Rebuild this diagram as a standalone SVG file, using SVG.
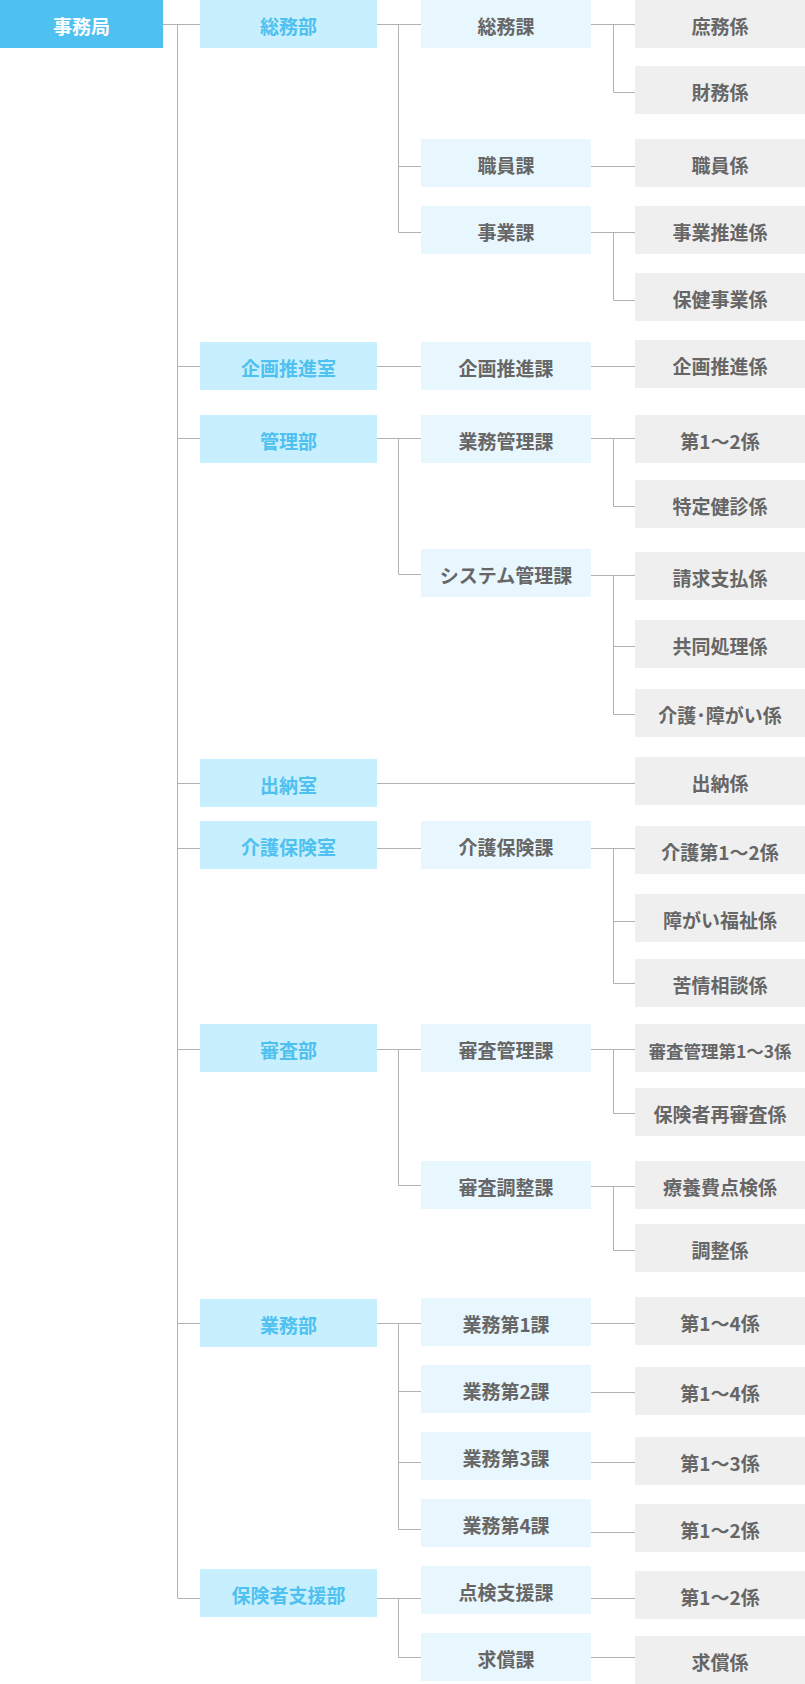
<svg xmlns="http://www.w3.org/2000/svg" width="805" height="1684" viewBox="0 0 805 1684">
<style>
text{font-family:"Noto Sans CJK JP","Noto Sans",sans-serif;font-size:19px;font-weight:bold;text-anchor:middle}
.top rect{fill:#4fc1f0}.top text{fill:#ffffff}
.bu rect{fill:#c7effd}.bu text{fill:#4fc1f0}
.ka rect{fill:#e8f6fd}.ka text{fill:#666666}
.kk rect{fill:#efefef}.kk text{fill:#666666}
#connectors path{stroke:#b2b2b2;stroke-width:1;fill:none}
</style>
<rect width="805" height="1684" fill="#ffffff"/>
<g id="connectors">
<path d="M163 24.5H200M177.5 24.5V1598.5"/>
<path d="M177.5 366.5H200M177.5 438.5H200M177.5 783.5H200M177.5 848.5H200M177.5 1049.5H200M177.5 1323.5H200M177.5 1598.5H200"/>
<path d="M377 24.5H421M398.5 24.5V232.5M398.5 166.5H421M398.5 232.5H421"/>
<path d="M591 24.5H635M613.5 24.5V92.5H635"/>
<path d="M591 166.5H635"/>
<path d="M591 232.5H635M613.5 232.5V300.5H635"/>
<path d="M377 366.5H421M591 366.5H635"/>
<path d="M377 438.5H421M398.5 438.5V574.5H421"/>
<path d="M591 438.5H635M613.5 438.5V506.5H635"/>
<path d="M591 575.5H635M613.5 575.5V714.5H635M613.5 646.5H635"/>
<path d="M377 783.5H635"/>
<path d="M377 848.5H421M591 848.5H635M613.5 848.5V983.5H635M613.5 921.5H635"/>
<path d="M377 1049.5H421M398.5 1049.5V1185.5H421"/>
<path d="M591 1049.5H635M613.5 1049.5V1113.5H635"/>
<path d="M591 1186.5H635M613.5 1186.5V1250.5H635"/>
<path d="M377 1323.5H421M398.5 1323.5V1529.5H421M398.5 1391.5H421M398.5 1462.5H421"/>
<path d="M591 1323.5H635M591 1392.5H635M591 1462.5H635M591 1532.5H635"/>
<path d="M377 1598.5H421M398.5 1598.5V1657.5H421M591 1598.5H635M591 1657.5H635"/>
</g>
<g id="n-jimukyoku" class="top"><rect x="0" y="0" width="163" height="48"/><text x="81.5" y="34">事務局</text></g>
<g id="b-somu" class="bu"><rect x="200" y="0" width="177" height="48"/><text x="288.5" y="34">総務部</text></g>
<g id="b-kikaku" class="bu"><rect x="200" y="342" width="177" height="48"/><text x="288.5" y="376">企画推進室</text></g>
<g id="b-kanri" class="bu"><rect x="200" y="415" width="177" height="48"/><text x="288.5" y="449">管理部</text></g>
<g id="b-suito" class="bu"><rect x="200" y="759" width="177" height="48"/><text x="288.5" y="793">出納室</text></g>
<g id="b-kaigo" class="bu"><rect x="200" y="821" width="177" height="48"/><text x="288.5" y="855">介護保険室</text></g>
<g id="b-shinsa" class="bu"><rect x="200" y="1024" width="177" height="48"/><text x="288.5" y="1058">審査部</text></g>
<g id="b-gyomu" class="bu"><rect x="200" y="1299" width="177" height="48"/><text x="288.5" y="1333">業務部</text></g>
<g id="b-hokensha" class="bu"><rect x="200" y="1569" width="177" height="48"/><text x="288.5" y="1603">保険者支援部</text></g>
<g id="k-somu" class="ka"><rect x="421" y="0" width="170" height="48"/><text x="506" y="34">総務課</text></g>
<g id="k-shokuin" class="ka"><rect x="421" y="139" width="170" height="48"/><text x="506" y="173">職員課</text></g>
<g id="k-jigyo" class="ka"><rect x="421" y="206" width="170" height="48"/><text x="506" y="240">事業課</text></g>
<g id="k-kikaku" class="ka"><rect x="421" y="342" width="170" height="48"/><text x="506" y="376">企画推進課</text></g>
<g id="k-gyomukanri" class="ka"><rect x="421" y="415" width="170" height="48"/><text x="506" y="449">業務管理課</text></g>
<g id="k-system" class="ka"><rect x="421" y="549" width="170" height="48"/><text x="506" y="583">システム管理課</text></g>
<g id="k-kaigo" class="ka"><rect x="421" y="821" width="170" height="48"/><text x="506" y="855">介護保険課</text></g>
<g id="k-shinsakanri" class="ka"><rect x="421" y="1024" width="170" height="48"/><text x="506" y="1058">審査管理課</text></g>
<g id="k-shinsachosei" class="ka"><rect x="421" y="1161" width="170" height="48"/><text x="506" y="1195">審査調整課</text></g>
<g id="k-gyomu1" class="ka"><rect x="421" y="1298" width="170" height="48"/><text x="506" y="1332">業務第1課</text></g>
<g id="k-gyomu2" class="ka"><rect x="421" y="1365" width="170" height="48"/><text x="506" y="1399">業務第2課</text></g>
<g id="k-gyomu3" class="ka"><rect x="421" y="1432" width="170" height="48"/><text x="506" y="1466">業務第3課</text></g>
<g id="k-gyomu4" class="ka"><rect x="421" y="1499" width="170" height="48"/><text x="506" y="1533">業務第4課</text></g>
<g id="k-tenken" class="ka"><rect x="421" y="1566" width="170" height="48"/><text x="506" y="1600">点検支援課</text></g>
<g id="k-kyusho" class="ka"><rect x="421" y="1633" width="170" height="48"/><text x="506" y="1667">求償課</text></g>
<g id="g-shomu" class="kk"><rect x="635" y="0" width="170" height="48"/><text x="720" y="34">庶務係</text></g>
<g id="g-zaimu" class="kk"><rect x="635" y="66" width="170" height="48"/><text x="720" y="100">財務係</text></g>
<g id="g-shokuin" class="kk"><rect x="635" y="139" width="170" height="48"/><text x="720" y="173">職員係</text></g>
<g id="g-jigyosuishin" class="kk"><rect x="635" y="206" width="170" height="48"/><text x="720" y="240">事業推進係</text></g>
<g id="g-hokenjigyo" class="kk"><rect x="635" y="273" width="170" height="48"/><text x="720" y="307">保健事業係</text></g>
<g id="g-kikaku" class="kk"><rect x="635" y="340" width="170" height="48"/><text x="720" y="374">企画推進係</text></g>
<g id="g-dai12a" class="kk"><rect x="635" y="415" width="170" height="48"/><text x="720" y="449">第1～2係</text></g>
<g id="g-tokutei" class="kk"><rect x="635" y="480" width="170" height="48"/><text x="720" y="514">特定健診係</text></g>
<g id="g-seikyu" class="kk"><rect x="635" y="552" width="170" height="48"/><text x="720" y="586">請求支払係</text></g>
<g id="g-kyodo" class="kk"><rect x="635" y="620" width="170" height="48"/><text x="720" y="654">共同処理係</text></g>
<g id="g-kaigoshogai" class="kk"><rect x="635" y="689" width="170" height="48"/><text x="720" y="723">介護･障がい係</text></g>
<g id="g-suito" class="kk"><rect x="635" y="757" width="170" height="48"/><text x="720" y="791">出納係</text></g>
<g id="g-kaigo12" class="kk"><rect x="635" y="826" width="170" height="48"/><text x="720" y="860">介護第1～2係</text></g>
<g id="g-shogai" class="kk"><rect x="635" y="894" width="170" height="48"/><text x="720" y="928">障がい福祉係</text></g>
<g id="g-kujo" class="kk"><rect x="635" y="959" width="170" height="48"/><text x="720" y="993">苦情相談係</text></g>
<g id="g-shinsakanri13" class="kk"><rect x="635" y="1024" width="170" height="48"/><text x="720" y="1058" style="font-size:17.5px">審査管理第1～3係</text></g>
<g id="g-saishinsa" class="kk"><rect x="635" y="1088" width="170" height="48"/><text x="720" y="1122">保険者再審査係</text></g>
<g id="g-ryoyohi" class="kk"><rect x="635" y="1161" width="170" height="48"/><text x="720" y="1195">療養費点検係</text></g>
<g id="g-chosei" class="kk"><rect x="635" y="1224" width="170" height="48"/><text x="720" y="1258">調整係</text></g>
<g id="g-g1" class="kk"><rect x="635" y="1297" width="170" height="48"/><text x="720" y="1331">第1～4係</text></g>
<g id="g-g2" class="kk"><rect x="635" y="1367" width="170" height="48"/><text x="720" y="1401">第1～4係</text></g>
<g id="g-g3" class="kk"><rect x="635" y="1437" width="170" height="48"/><text x="720" y="1471">第1～3係</text></g>
<g id="g-g4" class="kk"><rect x="635" y="1504" width="170" height="48"/><text x="720" y="1538">第1～2係</text></g>
<g id="g-tenken" class="kk"><rect x="635" y="1571" width="170" height="48"/><text x="720" y="1605">第1～2係</text></g>
<g id="g-kyusho" class="kk"><rect x="635" y="1636" width="170" height="48"/><text x="720" y="1670">求償係</text></g>
</svg>
